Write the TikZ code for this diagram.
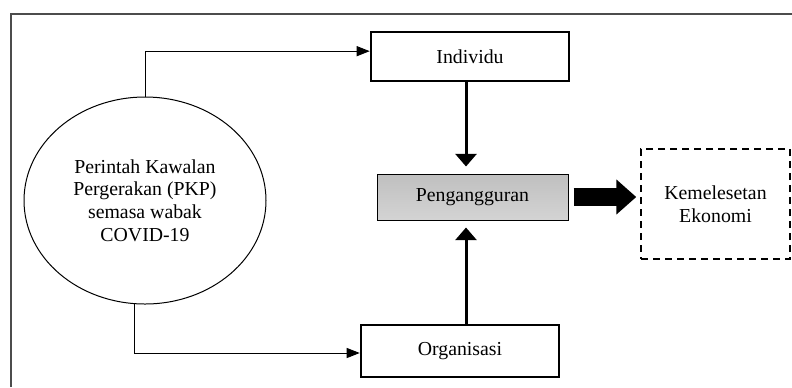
\documentclass[tikz,border=0pt]{standalone}
\usepackage{fontspec}
\setmainfont{Liberation Serif}
\usepackage{tikz}
\usetikzlibrary{shapes.geometric, arrows.meta}
\tikzstyle{factor} = [rectangle, draw, line width=1.9pt, fill=white,
                 minimum width=148.5pt, minimum height=36.75pt]
\tikzstyle{link} = [draw, line width=0.75pt,
                 -{Triangle[length=9.75pt,width=7.5pt]}]
\tikzset{
	every node/.style={font=\fontsize{14.85pt}{17pt}\selectfont},
	policy/.style={ellipse, draw, line width=0.75pt, align=center,
		inner sep=0pt, minimum width=181.5pt, minimum height=155.25pt},
	problem/.style={rectangle, draw, line width=0.75pt,
		top color=black!25, bottom color=black!17,
		minimum width=143.25pt, minimum height=34.5pt},
	outcome/.style={rectangle, draw, line width=1.1pt,
		dash pattern=on 5.25pt off 3.75pt, align=center,
		minimum width=111.75pt, minimum height=82.5pt},
	effect/.style={draw, line width=2.25pt, shorten >=5.25pt,
		-{Triangle[length=9.5pt,width=15.75pt]}},
	bigarrow/.style={draw, line width=13.5pt, shorten <=3.75pt, shorten >=3pt,
		-{Triangle[length=15pt,width=25.5pt]}},
}

\begin{document}
\begin{tikzpicture}[x=0.75pt, y=-0.75pt]

\useasboundingbox (0,0) rectangle (792,387);
    	%frame
\draw [line width=1pt, black!70] (11,387) -- (11,14) -- (792,14);

\node [policy] at (145,200.5) (pkp) {Perintah Kawalan\\Pergerakan (PKP)\\semasa wabak\\COVID-19};

\node [factor] at (470,56.5) (individu) {Individu};
\node [factor, minimum height=39pt] at (460,351) (organisasi) {Organisasi};
\node [problem] at (472.5,197) (pengangguran) {Pengangguran};
\node [outcome] at (715.5,204) (kemelesetan) {Kemelesetan\\Ekonomi};

\path [link] (pkp.north) |- ([yshift=4pt]individu.west);
\path [link] (pkp.264) |- ([yshift=-1.5pt]organisasi.west);
\path [effect] ([xshift=-3pt]individu.south) -- ([xshift=-3pt]individu.south |- pengangguran.north);
\path [effect] ([xshift=4.5pt]organisasi.north) -- ([xshift=4.5pt]organisasi.north |- pengangguran.south);
\path [bigarrow] (pengangguran.east) -- (pengangguran.east -| kemelesetan.west);

\end{tikzpicture}
\end{document}
